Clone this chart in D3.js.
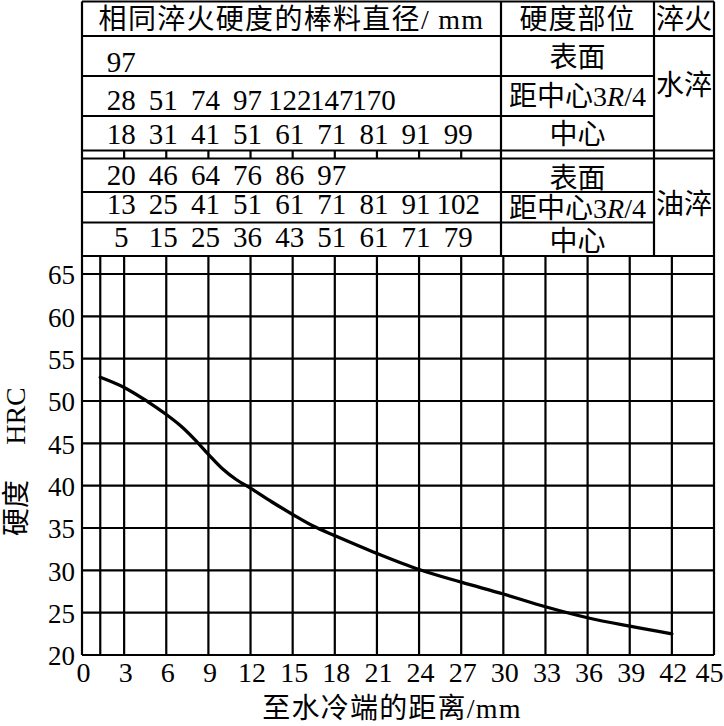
<!DOCTYPE html>
<html><head><meta charset="utf-8">
<script src="https://cdn.jsdelivr.net/npm/d3@7"></script>
<style>
html,body{margin:0;padding:0;background:#fff;}
svg{display:block;}
</style></head>
<body>
<svg id="c" width="724" height="726"></svg>
<script>
// ---------- data ----------
const distTicks = [0,3,6,9,12,15,18,21,24,27,30,33,36,39,42,45];
const hardTicks = [20,25,30,35,40,45,50,55,60,65];
const gridDist = [1.3,3,6,9,12,15,18,21,24,27,30,33,36,39,42];
const curveDist = [1.3,3,4.7,6,7,8,9,10,11,12,13.5,15,16.5,18,21,24,27,30,33,36,39,42];
const curveHRC  = [52.8,51.6,49.9,48.4,47.1,45.5,43.7,42.0,40.7,39.7,38.1,36.6,35.2,34.1,32.0,30.1,28.6,27.2,25.7,24.4,23.4,22.5];
const tableDist = [3,6,9,12,15,18,21,24,27];
const waterSurface = [97];
const waterR34 = [28,51,74,97,122,147,170];
const waterCenter = [18,31,41,51,61,71,81,91,99];
const oilSurface = [20,46,64,76,86,97];
const oilR34 = [13,25,41,51,61,71,81,91,102];
const oilCenter = [5,15,25,36,43,51,61,71,79];
const headerTexts = ["相同淬火硬度的棒料直径/ mm","硬度部位","淬火"];
const positionTexts = ["表面","距中心","中心"];
const quenchTexts = ["水淬","油淬"];
const xTitle = "至水冷端的距离/mm";
const yTitleCN = "硬度", yTitleEN = "HRC";

// ---------- layout ----------
const L = 82, R = 714, PT = 256, PB = 655;
const colA = 501, colB = 654;
const rows = {top:1.5, head:36, w1:76, w2:116, w3:150.5, o0:158.5, o1:192, o2:222.5, bot:256};
const serif = "'Liberation Serif','Times New Roman',serif";
const cjk = "'Liberation Serif','Noto Sans CJK SC',sans-serif";
const LW = 2.2;

const svg = d3.select("#c");
svg.append("rect").attr("width",724).attr("height",726).attr("fill","#fff");

const x = d3.scaleLinear().domain([0,45]).range([L,R]);
const y = d3.scaleLinear().domain([20,65]).range([PB,274]);

// ---------- plot grid ----------
const g = svg.append("g").attr("stroke","#000").attr("stroke-width",LW);
g.selectAll("line.h").data(hardTicks.filter(v=>v>20)).join("line")
  .attr("x1",L).attr("x2",R).attr("y1",d=>y(d)).attr("y2",d=>y(d));
g.selectAll("line.v").data(gridDist).join("line")
  .attr("x1",d=>x(d)).attr("x2",d=>x(d)).attr("y1",PT).attr("y2",PB);
g.append("line").attr("x1",L).attr("x2",L).attr("y1",rows.top).attr("y2",PB);
g.append("line").attr("x1",R).attr("x2",R).attr("y1",rows.top).attr("y2",PB);
g.append("line").attr("x1",L).attr("x2",R).attr("y1",PB).attr("y2",PB);
g.append("line").attr("x1",L).attr("x2",R).attr("y1",PT).attr("y2",PT);

// ---------- table lines ----------
const t = svg.append("g").attr("stroke","#000").attr("stroke-width",LW);
[rows.top, rows.head, rows.w3, rows.o0].forEach(yy=>
  t.append("line").attr("x1",L).attr("x2",R).attr("y1",yy).attr("y2",yy));
[rows.w1, rows.w2, rows.o1, rows.o2].forEach(yy=>
  t.append("line").attr("x1",L).attr("x2",colB).attr("y1",yy).attr("y2",yy));
[colA,colB].forEach(xx=>
  t.append("line").attr("x1",xx).attr("x2",xx).attr("y1",rows.top).attr("y2",rows.bot));
t.selectAll("line.s").data(tableDist).join("line")
  .attr("x1",d=>x(d)).attr("x2",d=>x(d)).attr("y1",rows.w3).attr("y2",rows.o0);

// ---------- table text ----------
const tt = svg.append("g").attr("fill","#000");
function txt(s, xx, yy, size, fam, anchor){
  return tt.append("text").attr("x",xx).attr("y",yy).attr("font-size",size)
    .attr("font-family",fam).attr("text-anchor",anchor||"middle").text(s);
}
txt(headerTexts[0], (L+colA)/2, 29, 28, cjk).attr("letter-spacing",1.3);
txt(headerTexts[1], (colA+colB)/2, 29, 28, cjk).attr("letter-spacing",1);
txt(headerTexts[2], (colB+R)/2, 29, 28, cjk);

function numRow(arr, base){
  tt.append("g").selectAll("text").data(arr).join("text")
    .attr("x",(d,i)=>x(tableDist[i])-3).attr("y",base)
    .attr("font-size",29).attr("font-family",serif).attr("text-anchor","middle")
    .text(d=>d);
}
numRow(waterSurface, 72);
numRow(waterR34, 110);
numRow(waterCenter, 144);
numRow(oilSurface, 185);
numRow(oilR34, 214);
numRow(oilCenter, 247);

function r34(base){
  const e = tt.append("text").attr("x",(colA+colB)/2).attr("y",base).attr("font-size",28)
    .attr("font-family",cjk).attr("text-anchor","middle");
  e.append("tspan").text(positionTexts[1]);
  e.append("tspan").attr("font-family",serif).text("3");
  e.append("tspan").attr("font-family",serif).attr("font-style","italic").text("R");
  e.append("tspan").attr("font-family",serif).text("/4");
}
const cx2 = (colA+colB)/2;
txt(positionTexts[0], cx2, 67, 28, cjk);
r34(106);
txt(positionTexts[2], cx2, 144, 28, cjk);
txt(positionTexts[0], cx2, 188, 28, cjk);
r34(218);
txt(positionTexts[2], cx2, 251, 28, cjk);
txt(quenchTexts[0], (colB+R)/2, 95, 28, cjk);
txt(quenchTexts[1], (colB+R)/2, 214, 28, cjk);

// ---------- axes ----------
const ax = svg.append("g").attr("transform",`translate(0,${PB})`)
  .call(d3.axisBottom(x).tickValues(distTicks).tickSize(0).tickPadding(7).tickFormat(d3.format("d")));
ax.select(".domain").remove();
ax.selectAll("text").attr("font-size",28).attr("font-family",serif).attr("fill","#000")
  .attr("dx",d=>d===45?-5:1);

const ay = svg.append("g").attr("transform",`translate(${L},0)`)
  .call(d3.axisLeft(y).tickValues(hardTicks).tickSize(0).tickPadding(7).tickFormat(d3.format("d")));
ay.select(".domain").remove();
ay.selectAll("text").attr("font-size",27).attr("font-family",serif).attr("fill","#000").attr("dy","0.36em");

// titles
svg.append("text").attr("x",392).attr("y",718).attr("text-anchor","middle")
  .attr("font-size",28).attr("letter-spacing",1.2).attr("font-family",cjk).text(xTitle);
svg.append("text").attr("transform","translate(26,508) rotate(-90)").attr("text-anchor","middle")
  .attr("font-size",28).attr("font-family",cjk).text(yTitleCN);
svg.append("text").attr("transform","translate(25,416) rotate(-90)").attr("text-anchor","middle")
  .attr("font-size",28).attr("font-family",serif).text(yTitleEN);

// ---------- curve ----------
const pts = curveDist.map((d,i)=>[d,curveHRC[i]]);
svg.append("path").datum(pts)
  .attr("fill","none").attr("stroke","#000").attr("stroke-width",3.3).attr("stroke-linecap","round")
  .attr("d", d3.line().x(d=>x(d[0])).y(d=>y(d[1])).curve(d3.curveCatmullRom.alpha(0.5)));
</script>
</body></html>
